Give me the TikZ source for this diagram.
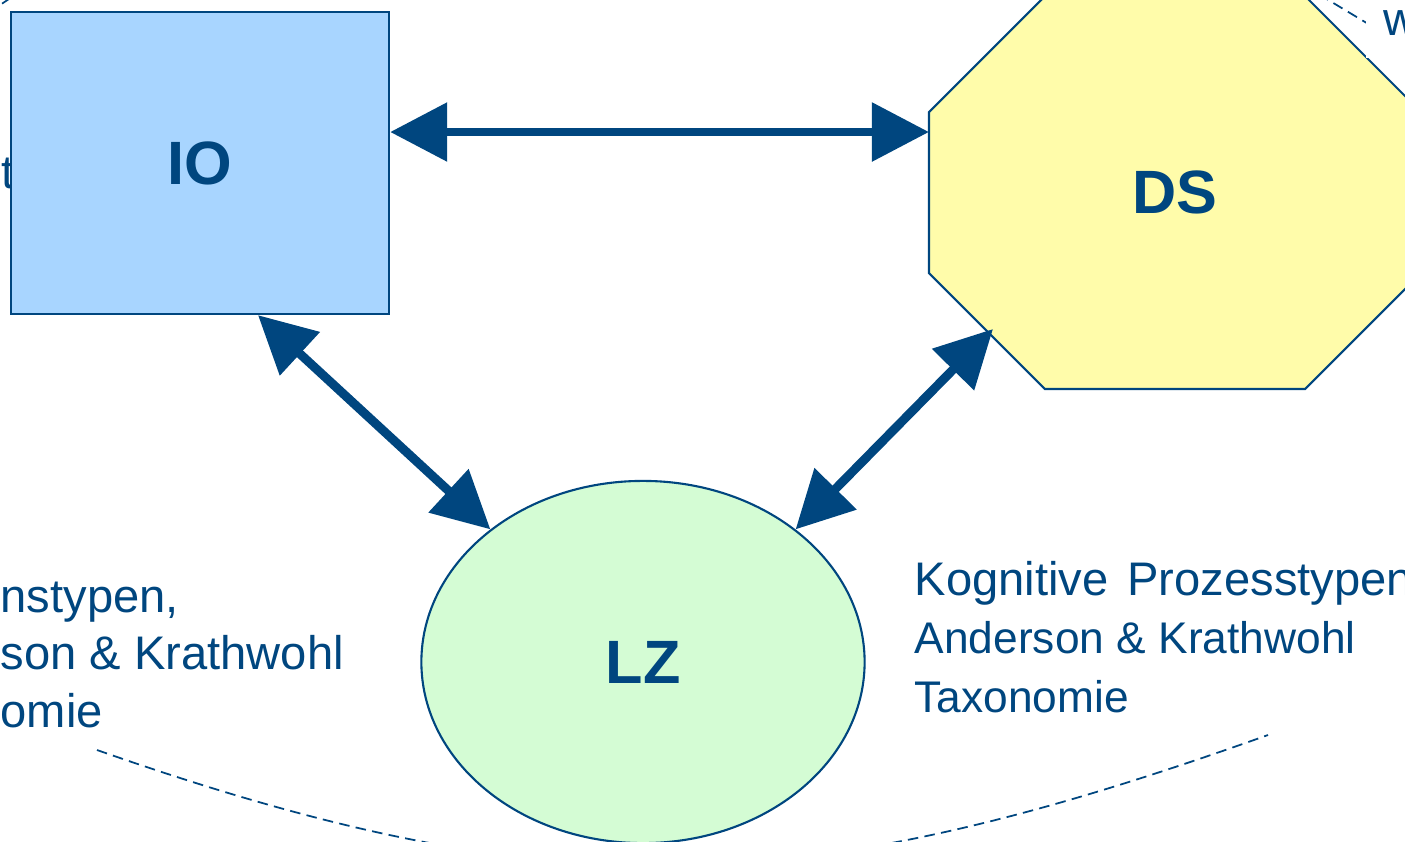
\documentclass[tikz,border=0pt]{standalone}
\usepackage{fontspec}
\setmainfont{Liberation Sans}
\usetikzlibrary{arrows.meta, shapes.geometric, calc}

\definecolor{navy}{RGB}{0,70,127}
\definecolor{iofill}{RGB}{168,213,255}
\definecolor{dsfill}{RGB}{255,252,170}
\definecolor{lzfill}{RGB}{212,252,212}

\tikzset{
  box/.style={draw=navy, line width=0.6pt, inner sep=0pt, text=navy},
  abbrev/.style={font=\fontsize{17.4}{20}\selectfont\bfseries},
  note/.style={text=navy, align=left, inner sep=0pt},
  link/.style={navy, line width=2.55pt,
    arrows={Triangle[length=5.7mm,width=5.7mm]-Triangle[length=5.7mm,width=5.7mm]}},
  hint/.style={navy, line width=0.5pt, dash pattern=on 3pt off 1.8pt},
}

\begin{document}
\begin{tikzpicture}[x=0.01cm, y=-0.01cm]
    \useasboundingbox (0,0) rectangle (1405,841);
    \clip (0,0) rectangle (1405,841);

    % Dashed hints
    \coordinate (wisEnd) at (97,750);
    \coordinate (kogEnd) at (1268,735);
    \draw[hint] (wisEnd) .. controls (559,912) and (806,900) .. (kogEnd);
    \draw[hint] (1290,-23) -- (1375,28);
    \draw[hint] (-12,13) -- (9,-1);

    % Cut-off text behind IO
    \node[note, anchor=base east, font=\fontsize{13.4}{16.3}\selectfont] (tcut) at (15,188) {t};

    % IO
    \node[box, abbrev, fill=iofill, minimum width=3.78cm, minimum height=3.02cm] (io) at (200,163) {IO};

    % DS octagon
    \coordinate (o1) at (1045,-4);
    \coordinate (o2) at (1305,-4);
    \coordinate (o3) at (1421,112);
    \coordinate (o4) at (1421,273);
    \coordinate (o5) at (1305,389);
    \coordinate (o6) at (1045,389);
    \coordinate (o7) at (929,273);
    \coordinate (o8) at (929,112);
    \draw[navy, line width=0.6pt, fill=dsfill] (o1) -- (o2) -- (o3) -- (o4) -- (o5) -- (o6) -- (o7) -- (o8) -- cycle;
    \node[abbrev, text=navy] (ds) at (1175,192) {DS};

    % Cut-off text top right
    \node[note, fill=white, inner xsep=0.18cm, inner ysep=0.23cm, anchor=base west,
          font=\fontsize{13.4}{16.3}\selectfont] (wcut) at (1365,35) {w};

    % LZ
    \node[box, abbrev, ellipse, fill=lzfill, minimum width=4.43cm, minimum height=3.62cm] (lz) at (643,662) {LZ};

    % Arrows
    \coordinate (dsleft) at (929,132);
    \coordinate (dscut) at (993,329);
    \draw[link] ($(io.east)+(0,-31)$) -- (dsleft);
    \draw[link] ($(io.south)+(58,0)$) -- (lz.139);
    \draw[link] (dscut) -- (lz.41);

    % Texts (base = last line)
    \node[note, anchor=base west, font=\fontsize{13.4}{16.3}\selectfont] (wissen) at (0,727)
        {nstypen,\\son \& Krathwohl\\omie};
    \node[note, anchor=base west, font=\fontsize{12.6}{16.5}\selectfont] (kogn) at (914,712)
        {{\fontsize{13.4}{16.5}\selectfont Kognitive\hspace{0.4em}Prozesstypen}\\Anderson \& Krathwohl\\Taxonomie};
\end{tikzpicture}
\end{document}
